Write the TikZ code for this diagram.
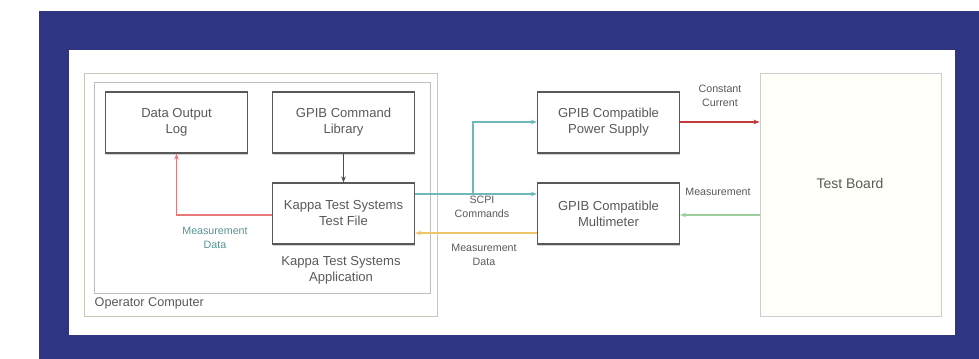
\documentclass[tikz,border=0pt]{standalone}
\usepackage{fontspec}
\setmainfont{Liberation Sans}
\usetikzlibrary{arrows.meta,calc,shadows}
\definecolor{navy}{HTML}{2F3582}
\definecolor{txt}{HTML}{5A5A5A}
\definecolor{lred}{HTML}{E8787A}
\definecolor{dred}{HTML}{C23A3A}
\definecolor{lteal}{HTML}{6DB8BA}
\definecolor{lorange}{HTML}{F2C46A}
\definecolor{lgreen}{HTML}{9CCF9C}
\definecolor{frameg}{HTML}{C9C9B8}
\begin{document}
\begin{tikzpicture}[x=0.75pt,y=-0.75pt,
  font=\fontsize{9.8}{12}\selectfont, text=txt,
  box/.style={draw=black!65, line width=0.9pt, fill=white, align=center,
    minimum width=106.5pt, minimum height=45.75pt, inner sep=0pt,
    drop shadow={shadow xshift=0.4pt, shadow yshift=-1.2pt, fill=black!35}},
  frame/.style={draw=frameg, line width=0.7pt, inner sep=0pt},
  lbl/.style={font=\fontsize{8}{10.5}\selectfont, align=center, text=txt},
  arr/.style={-{Stealth[length=4.5pt,width=3.5pt]}, line width=0.8pt}]
\useasboundingbox (0,0) rectangle (979,359);
\fill[white] (0,0) rectangle (979,359);
\fill[navy] (39,11) rectangle (979,359);
\fill[white] (69,50) rectangle (955,335);

% operator computer frames
\node[frame, minimum width=264.75pt, minimum height=182.25pt] (oc) at (260.5,194.5) {};
\node[frame, draw=black!25, minimum width=252pt, minimum height=158.25pt] (app) at (262,187.5) {};
\node[anchor=west, font=\fontsize{9.5}{11}\selectfont] (oclbl) at (90,303) {Operator Computer};

% boxes
\node[box] (dol) at (176.5,122.5) {Data Output\\Log};
\node[box] (lib) at (343.5,122.5) {GPIB Command\\Library};
\node[box] (tf)  at (343.5,213.5) {Kappa Test Systems\\Test File};
\node[align=center] (applbl) at (341,270.5) {Kappa Test Systems\\Application};
\node[box] (ps)  at (608.5,122.5) {GPIB Compatible\\Power Supply};
\node[box] (mm)  at (608.5,213.5) {GPIB Compatible\\Multimeter};

% test board
\node[frame, draw=black!20, fill=yellow!2, minimum width=135.75pt, minimum height=182.25pt] (tb) at (850.5,194.5) {};
\node[font=\fontsize{10.5}{12}\selectfont] (tbl) at (850,183) {Test Board};

% connectors
\draw[arr, black!70] (lib) -- (tf);
\draw[arr, lred] ($(tf.west)+(0,1.5)$) -| (dol.south);
\node[lbl, text=lteal!80!black] (mdl) at (215,238) {Measurement\\Data};

\coordinate (t1) at ($(tf.east)+(0,-19.5)$);
\coordinate (br) at (473,194);
\draw[arr, lteal] (t1) -- (t1 -| mm.west);
\draw[arr, lteal] (br) |- ($(ps.west)+(0,-0.5)$);
\node[lbl] (scpi) at (482,206.5) {SCPI\\Commands};

\coordinate (o1) at ($(mm.west)+(0,19.5)$);
\draw[arr, lorange] (o1) -- (o1 -| tf.east);
\node[lbl] (mdm) at (484,255) {Measurement\\Data};

\draw[arr, dred] ($(ps.east)+(0,-0.5)$) -- ($(ps.east -| tb.west)+(0,-0.5)$);
\node[lbl] (cc) at (720,96) {Constant\\Current};

\coordinate (g1) at ($(tb.west |- mm.east)+(0,1.5)$);
\draw[arr, lgreen] (g1) -- (g1 -| mm.east);
\node[lbl] (mr) at (718,192) {Measurement};
\end{tikzpicture}
\end{document}
